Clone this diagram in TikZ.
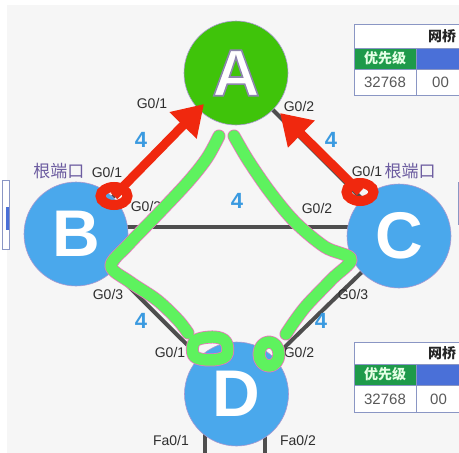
\documentclass[tikz,border=0pt]{standalone}
\usepackage{fontspec}
\setmainfont{Liberation Sans}
\newfontfamily\cjk{Noto Sans CJK SC}
\usetikzlibrary{arrows.meta,backgrounds,calc,shapes.geometric}
\definecolor{bgc}{HTML}{F6F6F6}
\definecolor{agreen}{HTML}{3FC40A}
\definecolor{bblue}{HTML}{4AA8EC}
\definecolor{linkc}{HTML}{4E4E4E}
\definecolor{numc}{HTML}{3A9AE0}
\definecolor{rootc}{HTML}{6C5CA0}
\definecolor{redc}{HTML}{F0280E}
\definecolor{hgreen}{HTML}{5EF25E}
\definecolor{hpink}{HTML}{F070C0}
\definecolor{tgreen}{HTML}{1E9A4A}
\definecolor{tblue}{HTML}{4A70D8}
\definecolor{tborder}{HTML}{8A96C4}
\definecolor{swedge}{HTML}{A898D0}
\definecolor{portc}{HTML}{2E2E2E}
\newcommand{\outlinedA}{\special{pdf:literal direct q 2 Tr 1.6 w 0.55 0.52 0.68 RG}A\special{pdf:literal direct Q}}
\tikzset{
  sw/.style={circle, minimum size=104pt, inner sep=0pt, draw=swedge, line width=0.6pt,
    text=white, font=\bfseries\fontsize{66}{66}\selectfont},
  port/.style={font=\fontsize{14}{14}\selectfont, text=portc, inner sep=0pt},
  cost/.style={font=\bfseries\fontsize{22}{22}\selectfont, text=numc, inner sep=0pt},
  rootlbl/.style={font=\cjk\fontsize{17}{17}\selectfont, text=rootc, inner sep=0pt},
  link/.style={draw=linkc, line width=4pt},
  redring/.style={ellipse, draw=redc, line width=10pt, minimum width=27pt, minimum height=18pt, inner sep=0pt},
  redarrow/.style={draw=redc, line width=9pt, -{Triangle[length=30pt,width=36pt]}},
  hlout/.style={draw=hpink, line width=13pt, line cap=round, line join=round},
  hlin/.style={draw=hgreen, line width=11.5pt, line cap=round, line join=round},
  tcell/.style={draw=tborder, line width=0.8pt},
  tnum/.style={font=\fontsize{15}{15}\selectfont, text=black!65, inner sep=0pt},
  tprio/.style={font=\cjk\bfseries\fontsize{14}{14}\selectfont, text=green!10, inner sep=0pt},
  thead/.style={font=\cjk\bfseries\fontsize{14}{14}\selectfont, text=black!85, inner sep=0pt, anchor=west},
}
\begin{document}
\begin{tikzpicture}[x=1pt,y=-1pt]
\useasboundingbox (0,0) rectangle (459,453);
% background
\begin{scope}[on background layer]
  \fill[white] (0,0) rectangle (459,453);
  \fill[bgc] (7,5) rectangle (459,453);
\end{scope}
% side fragments
\fill[white] (2,180) rectangle (9,249);
\fill[tblue] (6,207) rectangle (9,230);
\draw[tborder, line width=0.8pt] (2,180) rectangle (9,249);
\draw[tborder, line width=0.8pt] (458,182) -- (458,225);

% switches
\node[sw, fill=agreen] (A) at (236,73) {\outlinedA};
\node[sw, fill=bblue] (B) at (76,234) {B};
\node[sw, fill=bblue] (C) at (399,236) {C};
\node[sw, fill=bblue] (D) at (236.5,394) {D};

% links
\coordinate (f1) at (205,465);
\coordinate (f2) at (265,465);
\begin{scope}[on background layer]
  \draw[link] (A.center) -- (B.center);
  \draw[link] (A.center) -- (C.center);
  \draw[link] (B.center) -- (D.center);
  \draw[link] (C.center) -- (D.center);
  \draw[link] ($(B.center)+(0,-7)$) -- ($(C.center)+(0,-9)$);
  \draw[link] (D.center -| f1) -- (f1);
  \draw[link] (D.center -| f2) -- (f2);
\end{scope}

% port labels
\node[port] (pA1) at (152,103) {G0/1};
\node[port] (pA2) at (299,106) {G0/2};
\node[port] (pB1) at (107,172) {G0/1};
\node[port] (pB2) at (146,206) {G0/2};
\node[port] (pB3) at (108,294) {G0/3};
\node[port] (pC1) at (367,171) {G0/1};
\node[port] (pC2) at (317,208) {G0/2};
\node[port] (pC3) at (353,294) {G0/3};
\node[port] (pD1) at (170,352) {G0/1};
\node[port] (pD2) at (299,352) {G0/2};
\node[port] (pF1) at (171,440) {Fa0/1};
\node[port] (pF2) at (298,440) {Fa0/2};
% costs
\node[cost] (c1) at (141,140) {4};
\node[cost] (c2) at (331,140) {4};
\node[cost] (c3) at (237,201) {4};
\node[cost] (c4) at (141,321) {4};
\node[cost] (c5) at (321,321) {4};
% root port labels
\node[rootlbl] (rB) at (59,171) {根端口};
\node[rootlbl] (rC) at (410,171) {根端口};

% tables (top)
\fill[white] (354,24) rectangle (470,95);
\fill[tgreen] (354,48) rectangle (416,69);
\fill[tblue] (416,48) rectangle (470,69);
\draw[tcell] (354,24) rectangle (470,95);
\draw[tcell] (354,48) -- (470,48) (354,69) -- (470,69) (416,48) -- (416,95);
\node[thead] (t1h) at (428,36) {网桥};
\node[tprio] (t1p) at (385,58.5) {优先级};
\node[tnum] (t1n) at (385,82.5) {32768};
\node[tnum, anchor=west] (t1m) at (432,82.5) {00};
% tables (bottom)
\fill[white] (354,342) rectangle (470,412);
\fill[tgreen] (354,364) rectangle (416,385);
\fill[tblue] (416,364) rectangle (470,385);
\draw[tcell] (354,342) rectangle (470,412);
\draw[tcell] (354,364) -- (470,364) (354,385) -- (470,385) (416,364) -- (416,412);
\node[thead] (t2h) at (428,353) {网桥};
\node[tprio] (t2p) at (385,374.5) {优先级};
\node[tnum] (t2n) at (385,399) {32768};
\node[tnum, anchor=west] (t2m) at (430,399) {00};

% red annotations
\node[redring] (ringB) at (114,196) {};
\node[redring] (ringC) at (360,192) {};
\coordinate (tipA1) at (204,104);
\coordinate (tipA2) at (280,113);
\draw[redarrow] (ringB.center) -- (tipA1);
\draw[redarrow] (ringC.center) -- (tipA2);

% green annotations
\foreach \s in {hlout,hlin}{
  \draw[\s] plot[smooth, tension=0.55] coordinates {(219,136) (207,158) (188,182) (157,215) (128,245) (111,266) (130,282) (157,300) (178,320) (188,333)};
  \draw[\s] plot[smooth, tension=0.55] coordinates {(234,136) (248,160) (270,192) (295,222) (325,247) (351,259) (332,279) (307,305) (294,322) (286,334)};
  \draw[\s] plot[smooth cycle, tension=0.6] coordinates {(195,341) (214,337) (226,342) (226,356) (210,360) (194,356)};
  \draw[\s] (269,354) ellipse [x radius=10pt, y radius=12pt];
}
\end{tikzpicture}
\end{document}
